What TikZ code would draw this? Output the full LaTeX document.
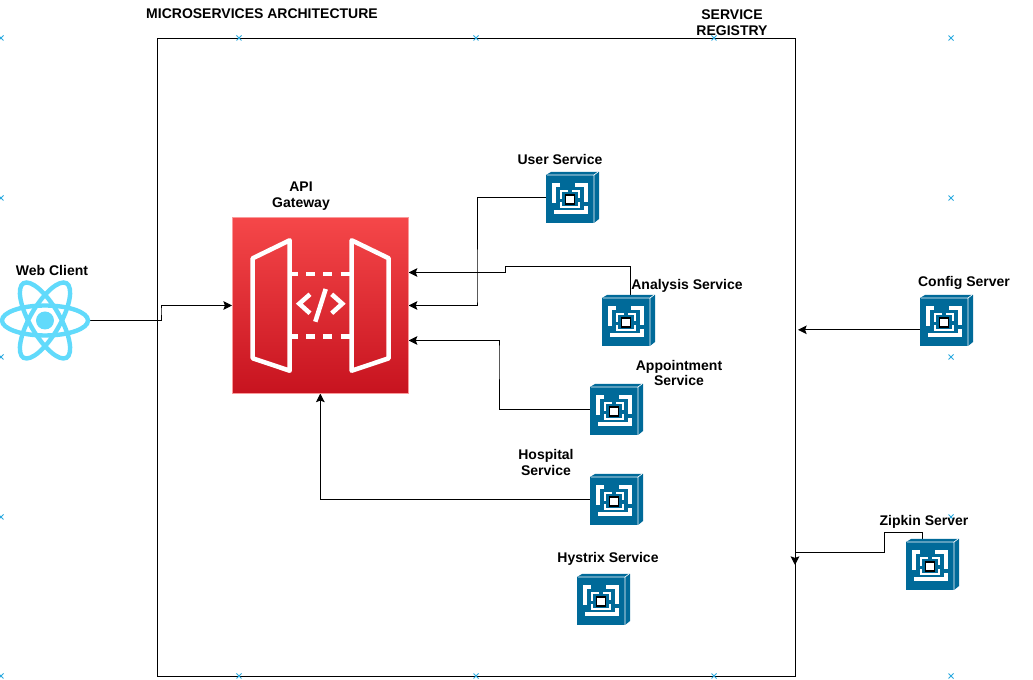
\documentclass[tikz,border=0pt]{standalone}
\usepackage{fontspec}
\setmainfont{Liberation Sans}
\usetikzlibrary{arrows.meta,backgrounds}
\definecolor{svcblue}{HTML}{006A99}
\definecolor{reactblue}{HTML}{61DAFB}
\definecolor{gwtop}{HTML}{F54749}
\definecolor{gwbot}{HTML}{C7131F}
\definecolor{markblue}{HTML}{29A9E0}
\tikzset{
  x=0.75pt,y=-0.75pt,
  lbl/.style={font=\bfseries\fontsize{10.5}{12}\selectfont,align=center,inner sep=0pt,text=black,yshift=-0.75pt},
  conn/.style={draw=black,line width=0.75pt,-{Stealth[length=6.5pt,width=6.5pt,inset=1.2pt]}},
  wirethin/.style={white,line width=1.6pt},
  door/.style={draw=white,line width=3.4pt,line join=round,line cap=round},
  dashbar/.style={draw=white,line width=3.4pt},
  atom/.style={draw=reactblue,line width=3.3pt},
  regmark/.style={draw=markblue,line width=0.6pt},
  svcbox/.style={draw=none,inner sep=0pt,outer sep=0pt,minimum width=39.75pt,minimum height=38.25pt,anchor=north west},
  pics/svc/.style={code={
    \node[svcbox] (#1) at (0,-3) {};
    \fill[svcblue] (0,0) -- (5,-3) -- (53,-3) -- (53,44) -- (48,48) -- (0,48) -- cycle;
    \draw[white,line width=0.5pt] (1,0) -- (48,0) -- (48,48) (48,0) -- (52,-3);
    \draw[wirethin,line width=2.6pt] (14,10) -- (8,10) -- (8,28);
    \draw[wirethin,line width=2.6pt] (29,10) -- (40,10) -- (40,27);
    \draw[wirethin,line width=2.6pt] (8,37) -- (40,37) -- (40,31);
    \draw[wirethin] (22,16) -- (15,16) -- (15,24);
    \draw[wirethin] (26,16) -- (33,16) -- (33,23);
    \draw[wirethin] (15,27) -- (15,32) -- (33,32) -- (33,27);
    \filldraw[fill=white,draw=black,line width=1.1pt] (19.5,20) rectangle (28.5,29);
  }}
}
\begin{document}
\begin{tikzpicture}
\useasboundingbox (0,0) rectangle (1033,680);

% service icons
\pic at (546,175) {svc=user};
\pic at (602,298) {svc=analysis};
\pic at (590,387) {svc=appointment};
\pic at (590,477) {svc=hospital};
\pic at (577,577) {svc=hystrix};
\pic at (920,298) {svc=config};
\pic at (906,542) {svc=zipkin};

% react client
\node[draw=none,minimum size=67.5pt,inner sep=0pt,outer sep=0pt] (web) at (45,320.5) {};
\foreach \a in {0,60,120}
  \draw[atom,rotate around={\a:(web.center)}] (web.center) ellipse [x radius=43,y radius=15];
\fill[reactblue] (web.center) circle [radius=9];

% gateway
\node[inner sep=0pt,outer sep=0pt,minimum width=132.5pt,minimum height=132pt,anchor=north west,
      top color=gwtop,bottom color=gwbot,draw=gwtop!55!white,line width=0.5pt] (gw) at (232,217.5) {};
\draw[door] (252.7,258.3) -- (289.7,240.3) -- (289.7,370.7) -- (252.7,358.3) -- cycle;
\draw[door] (351.7,240.3) -- (388.7,258.3) -- (388.7,358.3) -- (351.7,370.7) -- cycle;
\foreach \y in {274,336.7}{
  \draw[dashbar] (291.7,\y) -- (298.3,\y);
  \draw[dashbar] (306,\y) -- (315,\y);
  \draw[dashbar] (323.3,\y) -- (331.7,\y);
  \draw[dashbar] (340.7,\y) -- (350,\y);
}
\draw[door,line cap=butt,line join=miter] (310,294.3) -- (299.3,303.7) -- (310,313.3);
\draw[door,line cap=butt,line join=miter] (331.7,294.3) -- (342.3,303.7) -- (331.7,313.3);
\draw[door,line cap=butt] (325.7,289) -- (315.3,321.7);

% labels
\node[lbl] (tarch) at (262,13) {MICROSERVICES ARCHITECTURE};
\node[lbl] (treg) at (732,22) {SERVICE\\REGISTRY};
\node[lbl] (tuser) at (560,159) {User Service};
\node[lbl] (tapi) at (301,195) {API\\Gateway};
\node[lbl] (tweb) at (52,270) {Web Client};
\node[lbl] (tana) at (687,285) {Analysis Service};
\node[lbl] (tapp) at (679,372) {Appointment\\Service};
\node[lbl] (thos) at (546,461) {Hospital\\Service};
\node[lbl] (thys) at (608,558) {Hystrix Service};
\node[lbl] (tcfg) at (964,282) {Config Server};
\node[lbl] (tzip) at (924,521) {Zipkin Server};

\begin{scope}[on background layer]
  \fill[white] (0,0) rectangle (1033,680);
  \node[draw=black,line width=0.75pt,fill=white,inner sep=0pt,outer sep=0pt,minimum width=478.5pt,minimum height=478.5pt,anchor=north west] (reg) at (157,38.5) {};
  \foreach \x/\y in {1/38,239/38,476/38,714/38,951/38,1/198,951/198,1/357,951/357,1/517,951/517,1/676,239/676,476/676,714/676,951/676}
    \draw[regmark] (\x-2.5,\y-2.5) -- (\x+2.5,\y+2.5) (\x-2.5,\y+2.5) -- (\x+2.5,\y-2.5);
  % connectors
  \coordinate (gwR1) at ([yshift=24.75pt]gw.east);
  \coordinate (gwR3) at ([yshift=-26.25pt]gw.east);
  \coordinate (anaTop) at ([xshift=1.5pt]analysis.north);
  \coordinate (cfgOut) at ([yshift=-7pt]config.west);
  \coordinate (regIn) at ([xshift=2.25pt]reg.east |- cfgOut);
  \coordinate (zipTop) at ([xshift=-7.5pt]zipkin.north);
  \coordinate (regDown) at (reg.east |- 0,565);
  \draw[conn] (web.east) -| (161,310) |- (gw.west);
  \draw[conn] (user.west) -| (477,300) |- (gw.east);
  \draw[conn] (anaTop) |- (505,267) |- (gwR1);
  \draw[conn] (appointment.west) -| (499,350) |- (gwR3);
  \draw[conn] (hospital.west) -| (gw.south);
  \draw[conn] (cfgOut) -- (regIn);
  \draw[conn] (zipTop) |- (884,533) |- (reg.east |- 0,553) -- (regDown);
\end{scope}
\end{tikzpicture}
\end{document}
